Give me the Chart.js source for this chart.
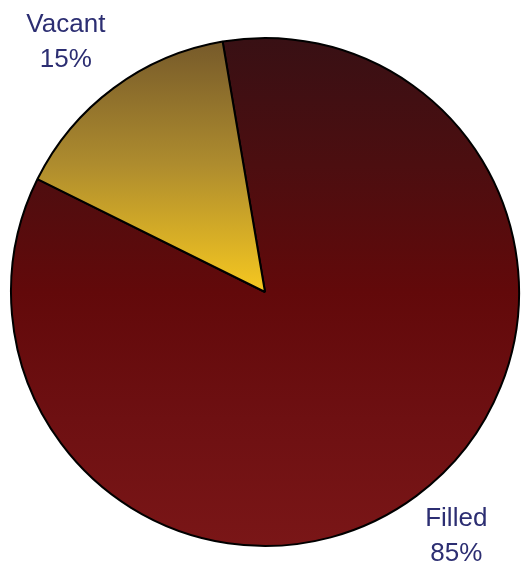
<!DOCTYPE html>
<html>
<head>
<meta charset="utf-8">
<script src="https://cdn.jsdelivr.net/npm/chart.js@4"></script>
<style>
  html, body { margin: 0; padding: 0; background: #fff; }
  #wrap { width: 523px; height: 567px; }
</style>
</head>
<body>
<div id="wrap"><canvas id="pieChart" width="523" height="567"></canvas></div>
<script>
const categories = ["Filled", "Vacant"];
const shares = [85, 15];
const shareLabels = ["85%", "15%"];

// label distance from centre, as a multiple of the radius
const labelDist = [1.215, 1.265];
const labelTurn = -1.7 * Math.PI / 180;

const labelPlugin = {
  id: "sliceLabels",
  afterDraw(chart) {
    const ctx = chart.ctx;
    const arcs = chart.getDatasetMeta(0).data;
    ctx.save();
    ctx.font = "26px 'Liberation Sans', Arial, sans-serif";
    ctx.fillStyle = "#2c2e72";
    ctx.textAlign = "center";
    ctx.textBaseline = "alphabetic";
    arcs.forEach((arc, i) => {
      const mid = (arc.startAngle + arc.endAngle) / 2 + labelTurn;
      const d = arc.outerRadius * labelDist[i];
      const cx = arc.x + Math.cos(mid) * d;
      const cy = arc.y + Math.sin(mid) * d;
      ctx.fillText(categories[i], cx, cy - 8);
      ctx.fillText(shareLabels[i], cx, cy + 27);
    });
    ctx.restore();
  }
};

function sliceFill(context) {
  const chart = context.chart;
  const area = chart.chartArea;
  if (!area) return "#600a0a";
  const ctx = chart.ctx;
  if (context.dataIndex === 0) {
    const g = ctx.createLinearGradient(0, area.top, 0, area.bottom);
    g.addColorStop(0, "#381014");
    g.addColorStop(0.25, "#4c0e10");
    g.addColorStop(0.5, "#62090a");
    g.addColorStop(0.75, "#6e1012");
    g.addColorStop(1, "#7a1617");
    return g;
  }
  const midY = (area.top + area.bottom) / 2;
  const g = ctx.createLinearGradient(0, area.top, 0, midY);
  g.addColorStop(0, "#74582a");
  g.addColorStop(0.5, "#ae8c2e");
  g.addColorStop(1, "#f6c820");
  return g;
}

new Chart(document.getElementById("pieChart").getContext("2d"), {
  type: "pie",
  data: {
    labels: categories,
    datasets: [{
      data: shares,
      backgroundColor: sliceFill,
      borderColor: "#000",
      borderWidth: 2
    }]
  },
  options: {
    responsive: false,
    animation: false,
    rotation: -9.6,
    layout: { padding: { left: 10, right: 3, top: 37, bottom: 20 } },
    plugins: {
      legend: { display: false },
      tooltip: { enabled: false }
    }
  },
  plugins: [labelPlugin]
});
</script>
</body>
</html>
